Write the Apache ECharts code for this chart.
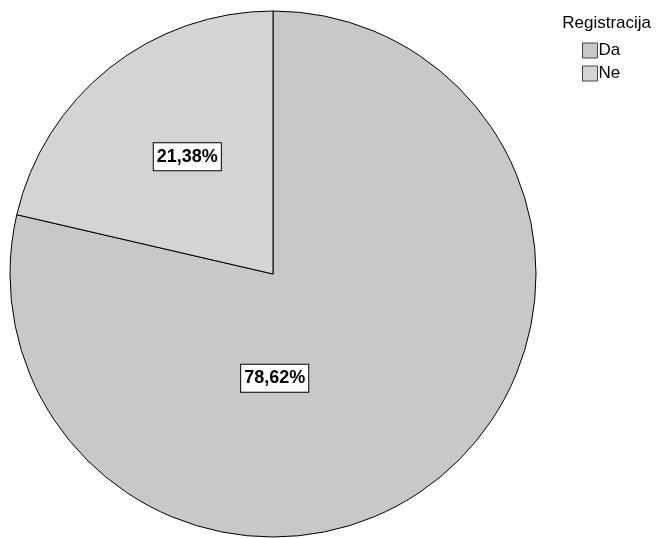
<!DOCTYPE html>
<html lang="en">
<head>
    <meta charset="UTF-8">
    <title>Registracija</title>
    <script src="https://cdn.jsdelivr.net/npm/echarts@6/dist/echarts.min.js"></script>
</head>
<style type="text/css">
    body{
        margin:0;
        background:#fff;
    }
    .pie-chart{
        width: 660px;
        height: 538px;
    }
</style>
<body>
    <div class="pie-chart"></div>
</body>
<script type="text/javascript">
var categories = ['Da', 'Ne'];
var percentages = [78.62, 21.38];
var sliceColors = ['#c8c8c8', '#d4d4d4'];

// label offsets from the default inside position
var labelShift = [[-82, -1], [-2, -12]];

var option = {
    animation: false,
    backgroundColor: '#ffffff',
    title: {
        text: 'Registracija',
        right: 4,
        top: 10,
        textStyle: {
            fontFamily: 'Liberation Sans',
            fontSize: 17,
            fontWeight: 'normal',
            color: '#000'
        }
    },
    legend: {
        orient: 'vertical',
        left: 577,
        top: 37,
        itemWidth: 15,
        itemHeight: 15,
        itemGap: 6,
        icon: 'rect',
        data: categories,
        itemStyle: {
            borderColor: '#444',
            borderWidth: 1
        },
        textStyle: {
            fontFamily: 'Liberation Sans',
            fontSize: 17,
            color: '#000',
            padding: [0, 0, 0, -4]
        }
    },
    series: [{
        type: 'pie',
        center: [273, 274],
        radius: [0, 263],
        startAngle: 90,
        clockwise: true,
        silent: true,
        itemStyle: {
            borderColor: '#000',
            borderWidth: 1
        },
        label: {
            show: true,
            position: 'inside',
            formatter: function (p) {
                return p.value.toFixed(2).replace('.', ',') + '%';
            },
            fontFamily: 'Liberation Sans',
            fontSize: 18,
            fontWeight: 'bold',
            color: '#000',
            backgroundColor: '#fff',
            borderColor: '#000',
            borderWidth: 1,
            padding: [5, 3, 4, 3]
        },
        labelLayout: function (params) {
            var s = labelShift[params.dataIndex];
            return { dx: s[0], dy: s[1] };
        },
        data: categories.map(function (c, i) {
            return {
                name: c,
                value: percentages[i],
                itemStyle: { color: sliceColors[i] }
            };
        })
    }]
};
var myChart = echarts.init(document.querySelector('.pie-chart'));
myChart.setOption(option);
</script>
</html>
